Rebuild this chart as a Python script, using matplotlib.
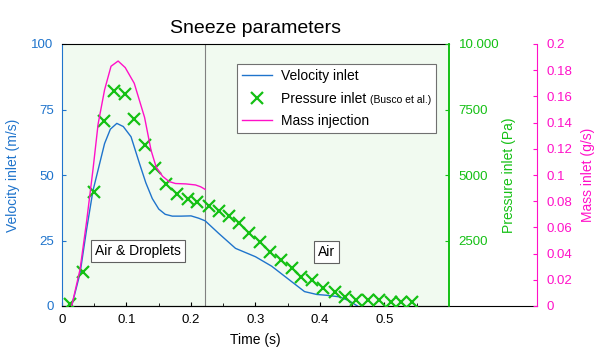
import matplotlib
matplotlib.use("Agg")
import matplotlib.pyplot as plt
from matplotlib.ticker import FixedLocator, FixedFormatter, MultipleLocator
from matplotlib.lines import Line2D
from matplotlib.offsetbox import TextArea, HPacker
import numpy as np

plt.rcParams['font.family'] = ['Liberation Sans', 'DejaVu Sans']

# ---- data ----
vel_t = [0.015, 0.028, 0.038, 0.048, 0.056, 0.066, 0.075, 0.085, 0.095, 0.107, 0.120, 0.130,
         0.140, 0.150, 0.160, 0.171, 0.185, 0.200, 0.212, 0.222, 0.243, 0.269, 0.300, 0.325,
         0.356, 0.376, 0.395, 0.410, 0.430, 0.445, 0.458]
vel_v = [0, 12.5, 29, 44, 52, 62, 67.5, 69.7, 68.5, 64.6, 54.5, 47,
         41, 37, 35, 34.3, 34.3, 34.4, 33.5, 32.5, 27.7, 22, 18.8, 15.2,
         9.3, 5.5, 4.4, 4.1, 3.5, 2.0, 0]

mass_t = [0.015, 0.028, 0.038, 0.048, 0.056, 0.066, 0.076, 0.087, 0.098, 0.112, 0.128, 0.138,
          0.146, 0.156, 0.166, 0.176, 0.192, 0.207, 0.215, 0.222]
mass_v = [0, 0.028, 0.064, 0.104, 0.139, 0.165, 0.183, 0.187, 0.182, 0.170, 0.144, 0.119,
          0.106, 0.099, 0.095, 0.0935, 0.0932, 0.0924, 0.091, 0.089]

pres_t = [0.012, 0.033, 0.050, 0.065, 0.080, 0.097, 0.112, 0.129, 0.144, 0.161, 0.179, 0.195,
          0.210, 0.228, 0.243, 0.259, 0.274, 0.290, 0.307, 0.323, 0.340, 0.356, 0.371, 0.387,
          0.405, 0.423, 0.439, 0.456, 0.474, 0.492, 0.510, 0.526, 0.542]
pres_v = [80, 1300, 4360, 7060, 8200, 8080, 7150, 6130, 5270, 4640, 4280, 4080,
          3980, 3830, 3640, 3440, 3180, 2800, 2450, 2070, 1760, 1440, 1120, 990,
          670, 550, 360, 230, 230, 230, 160, 160, 160]

x_ticks = [0, 0.1, 0.2, 0.3, 0.4, 0.5]
x_labels = ['0', '0.1', '0.2', '0.3', '0.4', '0.5']
vel_ticks = [0, 25, 50, 75, 100]
pres_ticks = [2500, 5000, 7500, 10000]
pres_labels = ['2500', '5000', '7500', '10.000']
mass_ticks = [0, 0.02, 0.04, 0.06, 0.08, 0.1, 0.12, 0.14, 0.16, 0.18, 0.2]
mass_labels = ['0', '0.02', '0.04', '0.06', '0.08', '0.1', '0.12', '0.14', '0.16', '0.18', '0.2']
phase_split = 0.222

BLUE = '#1f74cc'
GREEN = '#14c014'
MAGENTA = '#ff10c8'

fig = plt.figure(figsize=(5.94, 3.58), dpi=100)
ax = fig.add_axes([62/594, 52/358, 387/594, 262/358])
ax.set_facecolor('#f1faf0')

ax.plot(vel_t, vel_v, color=BLUE, lw=1.0, zorder=3)
ax.set_xlim(0, 0.6)
ax.set_ylim(0, 100)
ax.axvline(phase_split, color='#808080', lw=0.8, zorder=2)

ax.xaxis.set_major_locator(FixedLocator(x_ticks))
ax.xaxis.set_major_formatter(FixedFormatter(x_labels))
ax.xaxis.set_minor_locator(MultipleLocator(0.05))
ax.yaxis.set_major_locator(FixedLocator(vel_ticks))
ax.tick_params(axis='x', direction='in', length=3, labelsize=9.5, colors='black', pad=6)
ax.tick_params(axis='x', which='minor', direction='in', length=2)
ax.tick_params(axis='y', direction='in', length=3, labelsize=9.5, colors=BLUE, pad=6)
ax.spines['left'].set_color(BLUE)
ax.spines['right'].set_color(GREEN)
ax.spines['right'].set_linewidth(1.2)
ax.set_xlabel('Time (s)', fontsize=10, labelpad=5)
ax.set_ylabel('Velocity inlet (m/s)', fontsize=10, color=BLUE, labelpad=8)
ax.set_title('Sneeze parameters', fontsize=14, pad=8)

# pressure axis
axp = ax.twinx()
axp.plot(pres_t, pres_v, linestyle='none', marker='x', color=GREEN, ms=9, mew=1.6, zorder=4)
axp.set_ylim(0, 10000)
axp.yaxis.set_major_locator(FixedLocator(pres_ticks))
axp.yaxis.set_major_formatter(FixedFormatter(pres_labels))
axp.tick_params(axis='y', direction='in', length=3, labelsize=9.5, colors=GREEN, pad=7)
axp.spines['right'].set_color(GREEN)
axp.spines['right'].set_linewidth(1.2)
axp.spines['left'].set_visible(False)
axp.spines['top'].set_visible(False)
axp.spines['bottom'].set_visible(False)
axp.set_ylabel('Pressure inlet (Pa)', fontsize=10, color=GREEN, labelpad=2)

# mass axis
axm = ax.twinx()
axm.spines['right'].set_position(('axes', 475/387))
axm.plot(mass_t, mass_v, color=MAGENTA, lw=1.0, zorder=3)
axm.set_ylim(0, 0.2)
axm.yaxis.set_major_locator(FixedLocator(mass_ticks))
axm.yaxis.set_major_formatter(FixedFormatter(mass_labels))
axm.tick_params(axis='y', direction='in', length=3, labelsize=9.5, colors=MAGENTA, pad=7)
axm.spines['right'].set_color(MAGENTA)
for s in ['left', 'top', 'bottom']:
    axm.spines[s].set_visible(False)
axm.set_ylabel('Mass inlet (g/s)', fontsize=10, color=MAGENTA, labelpad=6)

# extended bottom line
ax.add_line(Line2D([0, 475/387], [0, 0], transform=ax.transAxes, color='black', lw=0.8, clip_on=False, zorder=5))

# region labels
box = dict(boxstyle='square,pad=0.3', fc='white', ec='#606060', lw=0.8)
ax.text(0.118, 21, 'Air & Droplets', fontsize=10, ha='center', va='center', bbox=box, zorder=6)
ax.text(0.41, 20.5, 'Air', fontsize=10, ha='center', va='center', bbox=box, zorder=6)

# legend
handles = [Line2D([], [], color=BLUE, lw=1.0),
           Line2D([], [], color=GREEN, marker='x', linestyle='none', ms=9, mew=1.6),
           Line2D([], [], color=MAGENTA, lw=1.0)]
labels = ['Velocity inlet', 'Pressure inlet', 'Mass injection']
leg = axm.legend(handles, labels, loc='upper left', bbox_to_anchor=(0.452, 0.922),
                 fontsize=10, frameon=True, fancybox=False, framealpha=1, edgecolor='#707070',
                 borderpad=0.35, labelspacing=0.6, handlelength=2.2, handletextpad=0.6,
                 borderaxespad=0)
leg.get_frame().set_linewidth(0.8)
leg.set_zorder(10)

# append small "(Busco et al.)" after the pressure label inside the legend
row = leg._legend_handle_box.get_children()[0].get_children()[1]
kids = row.get_children()
ta = TextArea('(Busco et al.)', textprops=dict(fontsize=7.5))
ta.set_figure(fig)
ta._text.set_figure(fig)
combo = HPacker(children=[kids[1], ta], sep=3, pad=0, align='baseline')
combo.set_figure(fig)
kids[1] = combo

fig.savefig('out.png', dpi=100)
